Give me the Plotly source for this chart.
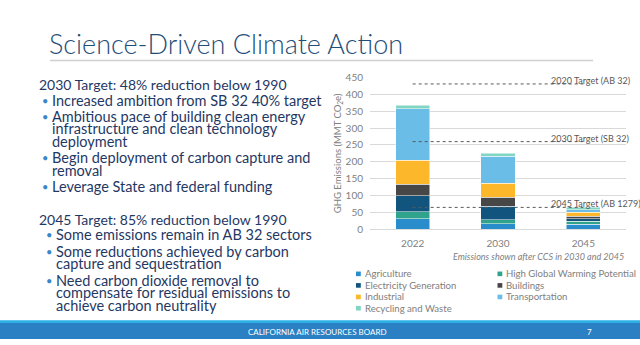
import plotly.graph_objects as go

# ---- data -------------------------------------------------------------
years = ["2022", "2030", "2045"]

sectors = [
    "Agriculture",
    "High Global Warming Potential",
    "Electricity Generation",
    "Buildings",
    "Industrial",
    "Transportation",
    "Recycling and Waste",
]

# GHG emissions by sector, MMT CO2e (stacked bottom to top in this order)
agriculture = [32, 17, 15]
high_gwp = [20, 12, 9]
electricity = [47, 40, 8]
buildings = [35, 26, 6]
industrial = [71, 41, 12]
transportation = [153, 81, 8]
recycling = [10, 9, 7]

sector_values = [agriculture, high_gwp, electricity, buildings,
                 industrial, transportation, recycling]

sector_colors = ["#2A8DCB", "#2FA38C", "#11547E", "#474747",
                 "#FDB72A", "#6ABDE6", "#80D5C3"]

target_labels = ["2020 Target (AB 32)", "2030 Target (SB 32)", "2045 Target (AB 1279)"]
target_values = [431, 260, 65]

y_ticks = [0, 50, 100, 150, 200, 250, 300, 350, 400, 450]

# legend layout: two columns, filled column by column
legend_col1 = ["Agriculture", "Electricity Generation", "Industrial", "Recycling and Waste"]
legend_col2 = ["High Global Warming Potential", "Buildings", "Transportation"]

block_2030 = [
    ("head", "2030 Target: 48% reduction below 1990"),
    ("bullet", "Increased ambition from SB 32 40% target"),
    ("bullet", "Ambitious pace of building clean energy"),
    ("cont", "infrastructure and clean technology"),
    ("cont", "deployment"),
    ("bullet", "Begin deployment of carbon capture and"),
    ("cont", "removal"),
    ("bullet", "Leverage State and federal funding"),
]
block_2045 = [
    ("head", "2045 Target: 85% reduction below 1990"),
    ("bullet", "Some emissions remain in AB 32 sectors"),
    ("bullet", "Some reductions achieved by carbon"),
    ("cont", "capture and sequestration"),
    ("bullet", "Need carbon dioxide removal to"),
    ("cont", "compensate for residual emissions to"),
    ("cont", "achieve carbon neutrality"),
]

# ---- page geometry (pixels) -------------------------------------------
W, H = 640, 345
FONT = "Lato"
NAVY = "#1F3864"
GRAY = "#808080"


def px(x):
    return x / W


def py(y):
    return 1 - y / H


fig = go.Figure()

for name, vals, col in zip(sectors, sector_values, sector_colors):
    fig.add_trace(go.Bar(
        x=years, y=vals, name=name, width=0.4,
        marker=dict(color=col, line=dict(color="white", width=0.5)),
        showlegend=False,
    ))

# dotted target lines spanning the first to the last year
for lab, val in zip(target_labels, target_values):
    fig.add_trace(go.Scatter(
        x=[years[0], years[-1]], y=[val, val], mode="lines",
        line=dict(color="#595959", width=1, dash="dot"),
        hoverinfo="skip", showlegend=False,
    ))

annotations = []
shapes = []

for lab, val in zip(target_labels, target_values):
    annotations.append(dict(
        x=1.6, y=val, xref="x", yref="y", text=lab, showarrow=False,
        xanchor="left", yanchor="bottom", yshift=-4,
        font=dict(family=FONT, size=9, color="#595959"),
    ))

# y-axis title
annotations.append(dict(
    x=px(338), y=py(152), xref="paper", yref="paper",
    text="GHG Emissions (MMT CO<sub>2</sub>e)", textangle=-90,
    showarrow=False, xanchor="center", yanchor="middle",
    font=dict(family=FONT, size=9.5, color=GRAY),
))

# note below the axis
annotations.append(dict(
    x=px(626), y=py(259), xref="paper", yref="paper",
    text="<i>Emissions shown after CCS in 2030 and 2045</i>",
    showarrow=False, xanchor="right", yanchor="middle",
    font=dict(family=FONT, size=9, color=GRAY),
))

# legend drawn as swatches + labels
row_y = [277.3, 289.3, 301.3, 313]
color_of = dict(zip(sectors, sector_colors))
for col_names, sx in ((legend_col1, 356), (legend_col2, 497.5)):
    for name, ry in zip(col_names, row_y):
        shapes.append(dict(
            type="rect", xref="paper", yref="paper",
            x0=px(sx), x1=px(sx + 4.8), y0=py(ry + 2.4), y1=py(ry - 2.4),
            fillcolor=color_of[name], line=dict(width=0),
        ))
        annotations.append(dict(
            x=px(sx + 6.5), y=py(ry), xref="paper", yref="paper",
            text=name, showarrow=False, xanchor="left", yanchor="middle",
            font=dict(family=FONT, size=9.6, color=GRAY),
        ))

# slide title and rule
annotations.append(dict(
    x=px(47), y=py(38), xref="paper", yref="paper",
    text="Science-Driven Climate Action", showarrow=False,
    xanchor="left", yanchor="middle",
    font=dict(family=FONT, size=27, color="#1F4E79", weight=300),
))
shapes.append(dict(
    type="line", xref="paper", yref="paper",
    x0=px(50), x1=px(593), y0=py(55.5), y1=py(55.5),
    line=dict(color="#D0D0D0", width=1.5),
))


def add_block(lines, y_start, head_x, dot_x, text_x):
    y = y_start
    first = True
    for kind, txt in lines:
        if not first:
            y += 13 if kind == "cont" else 17
        first = False
        if kind == "head":
            annotations.append(dict(
                x=px(head_x), y=py(y), xref="paper", yref="paper",
                text=txt, showarrow=False, xanchor="left", yanchor="middle",
                font=dict(family=FONT, size=14, color=NAVY),
            ))
            y -= 1
            continue
        if kind == "bullet":
            annotations.append(dict(
                x=px(dot_x), y=py(y), xref="paper", yref="paper",
                text="•", showarrow=False, xanchor="left", yanchor="middle",
                font=dict(family=FONT, size=11, color="#3A86C8"),
            ))
        annotations.append(dict(
            x=px(text_x), y=py(y), xref="paper", yref="paper",
            text=txt, showarrow=False, xanchor="left", yanchor="middle",
            font=dict(family=FONT, size=14.5, color=NAVY),
        ))


add_block(block_2030, 80.7, 37, 40, 50)
add_block(block_2045, 220.7, 37, 43.5, 53.5)

# footer band
shapes.append(dict(type="rect", xref="paper", yref="paper",
                   x0=0, x1=1, y0=py(328.5), y1=py(325.5),
                   fillcolor="#2CB0E6", line=dict(width=0)))
shapes.append(dict(type="rect", xref="paper", yref="paper",
                   x0=0, x1=1, y0=0, y1=py(328.5),
                   fillcolor="#2A80C3", line=dict(width=0)))
annotations.append(dict(
    x=px(317), y=py(338), xref="paper", yref="paper",
    text="CALIFORNIA AIR RESOURCES BOARD", showarrow=False,
    xanchor="center", yanchor="middle",
    font=dict(family=FONT, size=8, color="white"),
))
annotations.append(dict(
    x=px(589), y=py(338), xref="paper", yref="paper",
    text="7", showarrow=False, xanchor="center", yanchor="middle",
    font=dict(family=FONT, size=8, color="white"),
))

fig.update_layout(
    width=W, height=H,
    margin=dict(l=0, r=0, t=0, b=0),
    paper_bgcolor="white", plot_bgcolor="white",
    barmode="stack", bargap=0.6,
    showlegend=False,
    xaxis=dict(
        domain=[px(370), px(626)], type="category", range=[-0.5, 2.5],
        showgrid=False, showline=False, zeroline=False, ticks="",
        tickfont=dict(family=FONT, size=10, color=GRAY),
        ticklabelstandoff=7,
    ),
    yaxis=dict(
        domain=[py(231), py(73.3)], range=[0, 450],
        tickvals=y_ticks, showgrid=True, gridcolor="#D9D9D9", gridwidth=1,
        zeroline=True, zerolinecolor="#D9D9D9", zerolinewidth=1,
        showline=False, ticks="",
        tickfont=dict(family=FONT, size=10, color=GRAY),
        ticklabelstandoff=6,
    ),
    annotations=annotations,
    shapes=shapes,
)

fig.write_html("out.html")
